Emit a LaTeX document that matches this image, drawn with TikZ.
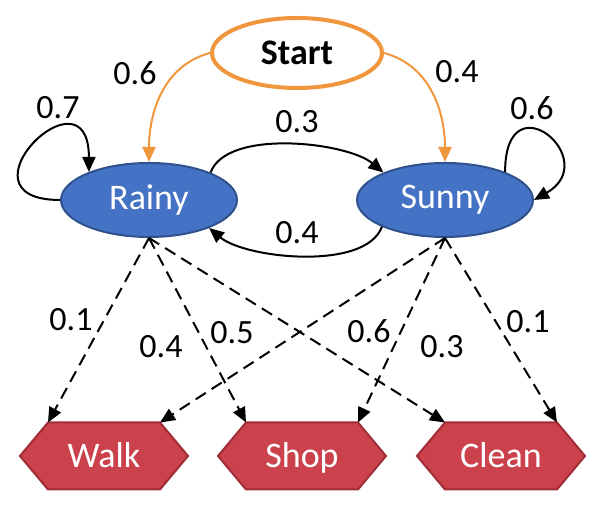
\documentclass[tikz,border=0pt]{standalone}
\usepackage{fontspec}
\setmainfont{Carlito}
\usetikzlibrary{arrows.meta,shapes.geometric,backgrounds}
\definecolor{startorange}{RGB}{240,150,60}
\definecolor{stateblue}{RGB}{68,114,196}
\definecolor{stateedge}{RGB}{47,82,143}
\definecolor{obsred}{RGB}{203,66,76}
\definecolor{obsedge}{RGB}{160,45,55}
\begin{document}
\begin{tikzpicture}[x=0.5pt, y=0.5pt, line width=1pt, font=\fontsize{17}{20}\selectfont,
  startnode/.style={ellipse, draw=startorange, line width=2pt, fill=white, minimum width=85pt, minimum height=35pt, font=\fontsize{18}{21}\selectfont\bfseries},
  statenode/.style={ellipse, draw=stateedge, fill=stateblue, text=white, minimum width=88pt, minimum height=37pt, font=\fontsize{18}{21}\selectfont},
  obsnode/.style={rectangle, minimum width=55pt, minimum height=32.5pt, inner sep=0pt, text height=15pt, text depth=3.5pt, text=white, font=\fontsize{18}{21}\selectfont},
  hexfill/.style={fill=obsred, draw=obsedge, line width=1pt},
  tip/.style={-{Triangle[length=7.5pt, width=6.5pt]}},
  trans/.style={tip, black},
  initarr/.style={tip, startorange},
  emit/.style={tip, dash pattern=on 6pt off 3.5pt},
  prob/.style={inner sep=0pt}]
\useasboundingbox (0,0) rectangle (600,512);
% start and hidden states
\node[startnode] (start) at (297,459) {Start};
\node[statenode] (rainy) at (149,312) {Rainy};
\node[statenode] (sunny) at (445,312) {Sunny};
% observations
\node[obsnode] (walk) at (104,56) {Walk};
\node[obsnode] (shop) at (302,56) {Shop};
\node[obsnode] (clean) at (501,56) {Clean};
\begin{scope}[on background layer]
\path[hexfill] (walk.north west) -- (walk.north east) -- ([xshift=14pt]walk.east) -- (walk.south east) -- (walk.south west) -- ([xshift=-14pt]walk.west) -- cycle;
\path[hexfill] (shop.north west) -- (shop.north east) -- ([xshift=14pt]shop.east) -- (shop.south east) -- (shop.south west) -- ([xshift=-14pt]shop.west) -- cycle;
\path[hexfill] (clean.north west) -- (clean.north east) -- ([xshift=14pt]clean.east) -- (clean.south east) -- (clean.south west) -- ([xshift=-14pt]clean.west) -- cycle;
\end{scope}
% initial probabilities
\draw[initarr] (start.west) to[out=195, in=90] (rainy.north);
\draw[initarr] (start.east) to[out=-15, in=90] (sunny.north);
\node[prob] (pi-r) at (135,439) {0.6};
\node[prob] (pi-s) at (457,440) {0.4};
% transitions
\draw[trans] (rainy.west) .. controls +(-110,0) and +(0,110) .. (rainy.155);
\draw[trans] (sunny.25) .. controls +(0,95) and +(70,40) .. (sunny.east);
\draw[trans] (rainy.24) to[out=70, in=140, looseness=0.7] (sunny.156);
\draw[trans] (sunny.203) to[out=-110, in=-40, looseness=0.7] (rainy.335);
\node[prob] (a-rr) at (58,404) {0.7};
\node[prob] (a-ss) at (532,404) {0.6};
\node[prob] (a-rs) at (297,390) {0.3};
\node[prob] (a-sr) at (297,279) {0.4};
% emissions
\draw[emit] (rainy.south) -- (walk.north west);
\draw[emit] (rainy.south) -- (shop.north west);
\draw[emit] (rainy.south) -- (clean.north west);
\draw[emit] (sunny.south) -- (walk.north east);
\draw[emit] (sunny.south) -- (shop.north east);
\draw[emit] (sunny.south) -- (clean.north east);
\node[prob] (b-rw) at (71,192) {0.1};
\node[prob] (b-rs) at (161,165) {0.4};
\node[prob] (b-rc) at (232,179) {0.5};
\node[prob] (b-sw) at (369,181) {0.6};
\node[prob] (b-ss) at (442,165) {0.3};
\node[prob] (b-sc) at (528,190) {0.1};
\end{tikzpicture}
\end{document}
